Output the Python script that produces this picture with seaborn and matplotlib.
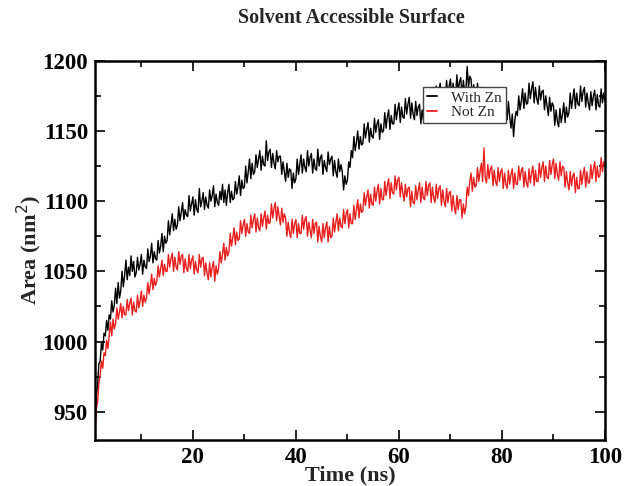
import numpy as np
import pandas as pd
import matplotlib
matplotlib.use("Agg")
import matplotlib.pyplot as plt
from matplotlib.lines import Line2D
import seaborn as sns
from matplotlib.ticker import MultipleLocator

time_ns = np.arange(1.0, 100.001, 0.25)

with_zn = [
    936, 961, 969, 984, 986, 999, 994, 1006, 1004, 1015, 1008, 1019, 1016, 1029, 1021, 1026,
    1038, 1027, 1042, 1031, 1036, 1050, 1039, 1047, 1058, 1044, 1053, 1047, 1061, 1050, 1057, 1046,
    1049, 1060, 1051, 1055, 1062, 1048, 1058, 1053, 1052, 1066, 1057, 1061, 1070, 1056, 1064, 1059,
    1058, 1072, 1063, 1068, 1077, 1064, 1075, 1070, 1072, 1086, 1076, 1083, 1091, 1079, 1087, 1080,
    1083, 1096, 1086, 1092, 1099, 1087, 1094, 1090, 1089, 1104, 1093, 1098, 1103, 1090, 1101, 1094,
    1092, 1109, 1096, 1100, 1106, 1094, 1103, 1097, 1095, 1108, 1100, 1104, 1111, 1096, 1105, 1099,
    1097, 1107, 1101, 1112, 1099, 1108, 1097, 1106, 1112, 1099, 1107, 1101, 1102, 1114, 1105, 1110,
    1118, 1104, 1115, 1109, 1110, 1125, 1113, 1121, 1130, 1116, 1127, 1119, 1121, 1133, 1124, 1130,
    1136, 1122, 1132, 1126, 1125, 1143, 1129, 1135, 1137, 1124, 1134, 1127, 1123, 1136, 1128, 1132,
    1132, 1119, 1128, 1121, 1114, 1127, 1117, 1123, 1122, 1109, 1120, 1113, 1116, 1130, 1119, 1126,
    1133, 1120, 1130, 1124, 1121, 1136, 1125, 1131, 1134, 1120, 1130, 1123, 1122, 1137, 1125, 1131,
    1133, 1119, 1129, 1124, 1121, 1135, 1126, 1130, 1132, 1118, 1129, 1121, 1117, 1130, 1121, 1126,
    1121, 1108, 1118, 1112, 1115, 1128, 1124, 1136, 1131, 1146, 1136, 1142, 1150, 1137, 1146, 1140,
    1141, 1155, 1145, 1151, 1156, 1142, 1152, 1146, 1145, 1159, 1149, 1155, 1158, 1144, 1155, 1149,
    1150, 1163, 1152, 1160, 1165, 1151, 1161, 1155, 1155, 1169, 1158, 1165, 1170, 1156, 1167, 1160,
    1159, 1173, 1162, 1169, 1174, 1159, 1170, 1162, 1158, 1171, 1161, 1167, 1169, 1155, 1165, 1158,
    1158, 1172, 1161, 1168, 1177, 1163, 1174, 1166, 1168, 1182, 1171, 1178, 1184, 1170, 1180, 1173,
    1172, 1186, 1175, 1182, 1187, 1173, 1184, 1176, 1175, 1190, 1178, 1185, 1188, 1174, 1186, 1178,
    1179, 1196, 1181, 1189, 1187, 1173, 1183, 1176, 1171, 1184, 1174, 1180, 1181, 1167, 1178, 1170,
    1166, 1179, 1169, 1175, 1177, 1163, 1173, 1167, 1163, 1176, 1166, 1172, 1174, 1160, 1170, 1163,
    1158, 1171, 1160, 1152, 1162, 1146, 1158, 1164, 1161, 1175, 1165, 1171, 1180, 1166, 1177, 1169,
    1170, 1184, 1173, 1180, 1185, 1170, 1181, 1173, 1169, 1182, 1172, 1178, 1179, 1165, 1175, 1168,
    1161, 1174, 1164, 1170, 1168, 1154, 1165, 1157, 1153, 1166, 1156, 1162, 1170, 1156, 1167, 1160,
    1163, 1177, 1166, 1173, 1180, 1166, 1177, 1169, 1168, 1182, 1171, 1178, 1181, 1167, 1177, 1170,
    1165, 1178, 1168, 1175, 1179, 1165, 1176, 1168, 1167, 1180, 1170, 1177,
    1171,
]

not_zn = [
    933, 952, 957, 970, 976, 986, 981, 992, 990, 1001, 995, 1004, 1014, 1004, 1016, 1009,
    1013, 1024, 1016, 1021, 1027, 1017, 1025, 1019, 1019, 1030, 1022, 1027, 1031, 1019, 1028, 1022,
    1021, 1033, 1024, 1029, 1036, 1025, 1033, 1028, 1031, 1042, 1034, 1040, 1048, 1037, 1045, 1040,
    1043, 1054, 1046, 1052, 1058, 1047, 1055, 1050, 1050, 1062, 1053, 1059, 1063, 1050, 1060, 1053,
    1051, 1064, 1055, 1061, 1062, 1049, 1059, 1052, 1050, 1062, 1052, 1058, 1061, 1048, 1057, 1051,
    1049, 1062, 1053, 1059, 1060, 1047, 1056, 1049, 1044, 1056, 1046, 1053, 1057, 1043, 1054, 1048,
    1052, 1064, 1056, 1062, 1070, 1058, 1067, 1061, 1064, 1077, 1068, 1074, 1081, 1069, 1078, 1072,
    1073, 1086, 1077, 1083, 1087, 1075, 1084, 1078, 1077, 1090, 1081, 1087, 1091, 1078, 1088, 1081,
    1079, 1091, 1082, 1088, 1093, 1080, 1090, 1084, 1085, 1098, 1088, 1095, 1099, 1086, 1096, 1089,
    1083, 1095, 1085, 1091, 1088, 1075, 1085, 1078, 1074, 1087, 1077, 1084, 1087, 1074, 1084, 1077,
    1077, 1090, 1080, 1087, 1089, 1075, 1085, 1079, 1074, 1087, 1077, 1084, 1085, 1071, 1082, 1075,
    1071, 1084, 1074, 1081, 1085, 1071, 1082, 1074, 1075, 1088, 1078, 1085, 1091, 1079, 1088, 1082,
    1081, 1094, 1084, 1091, 1094, 1081, 1091, 1084, 1084, 1097, 1087, 1094, 1101, 1088, 1098, 1092,
    1093, 1106, 1097, 1103, 1108, 1095, 1105, 1098, 1097, 1110, 1100, 1107, 1112, 1098, 1109, 1101,
    1101, 1114, 1104, 1111, 1116, 1102, 1113, 1106, 1105, 1118, 1108, 1115, 1117, 1103, 1113, 1106,
    1100, 1112, 1103, 1109, 1110, 1096, 1107, 1099, 1098, 1111, 1101, 1108, 1113, 1099, 1110, 1102,
    1101, 1114, 1104, 1111, 1113, 1099, 1110, 1102, 1099, 1112, 1102, 1109, 1111, 1097, 1108, 1100,
    1096, 1109, 1099, 1106, 1107, 1093, 1104, 1096, 1091, 1104, 1094, 1101, 1101, 1088, 1098, 1091,
    1096, 1110, 1104, 1114, 1120, 1107, 1117, 1110, 1111, 1124, 1114, 1121, 1127, 1114, 1138, 1117,
    1113, 1126, 1116, 1123, 1125, 1111, 1122, 1114, 1111, 1124, 1114, 1121, 1123, 1109, 1120, 1112,
    1109, 1122, 1112, 1119, 1123, 1109, 1120, 1112, 1112, 1125, 1115, 1122, 1124, 1110, 1121, 1113,
    1110, 1123, 1113, 1120, 1125, 1111, 1122, 1114, 1114, 1127, 1117, 1124, 1128, 1114, 1125, 1117,
    1116, 1129, 1119, 1126, 1130, 1116, 1127, 1119, 1115, 1128, 1118, 1125, 1124, 1110, 1121, 1113,
    1108, 1121, 1111, 1118, 1120, 1106, 1117, 1109, 1109, 1122, 1112, 1119, 1124, 1110, 1121, 1113,
    1113, 1126, 1116, 1123, 1128, 1114, 1125, 1117, 1118, 1131, 1121, 1128,
    1126,
]

series_names = ["With Zn", "Not Zn"]
series_colors = ["#000000", "#e8201e"]

df = pd.concat([
    pd.DataFrame({"Time": time_ns, "Area": with_zn, "Series": series_names[0]}),
    pd.DataFrame({"Time": time_ns, "Area": not_zn, "Series": series_names[1]}),
], ignore_index=True)

sns.set_style("ticks")
plt.rcParams["font.family"] = ["Liberation Serif", "DejaVu Serif"]

fig = plt.figure(figsize=(6.25, 4.86), dpi=100)
ax = fig.add_axes([0.152, 0.095, 0.816, 0.780])

sns.lineplot(data=df, x="Time", y="Area", hue="Series", hue_order=series_names,
             palette=dict(zip(series_names, series_colors)), linewidth=1.0,
             estimator=None, sort=False, legend=False, ax=ax)

ax.set_xlim(1, 100)
ax.set_ylim(930, 1200)
ax.xaxis.set_major_locator(MultipleLocator(20))
ax.xaxis.set_minor_locator(MultipleLocator(10))
ax.yaxis.set_major_locator(MultipleLocator(50))
ax.yaxis.set_minor_locator(MultipleLocator(25))
ax.tick_params(which="both", direction="in", top=True, right=True, width=1.2, colors="black")
ax.tick_params(which="major", length=7, labelsize=16.5, pad=5)
ax.tick_params(which="minor", length=4)
for lbl in ax.get_xticklabels() + ax.get_yticklabels():
    lbl.set_fontweight("bold")
for sp in ax.spines.values():
    sp.set_linewidth(1.8)
    sp.set_color("black")

ax.set_xlabel("Time (ns)", fontsize=16, fontweight="bold")
ax.xaxis.set_label_coords(0.5, -0.068)
ax.set_ylabel("Area (nm$^2$)", fontsize=16, fontweight="bold")
ax.yaxis.set_label_coords(-0.1, 0.5)
fig.text(0.563, 0.962, "Solvent Accessible Surface", ha="center", va="center",
         fontsize=14.5, fontweight="bold")

handles = [Line2D([], [], color=c, linewidth=1.3) for c in series_colors]
leg = ax.legend(handles, series_names, loc="upper left", bbox_to_anchor=(0.643, 0.93),
                frameon=True, fancybox=False, framealpha=1, edgecolor="#444444",
                fontsize=11, handlelength=0.7, handletextpad=0.9,
                borderpad=0.25, labelspacing=0.05, borderaxespad=0)
leg.get_frame().set_linewidth(1.0)

fig.savefig("out.png", dpi=100)
